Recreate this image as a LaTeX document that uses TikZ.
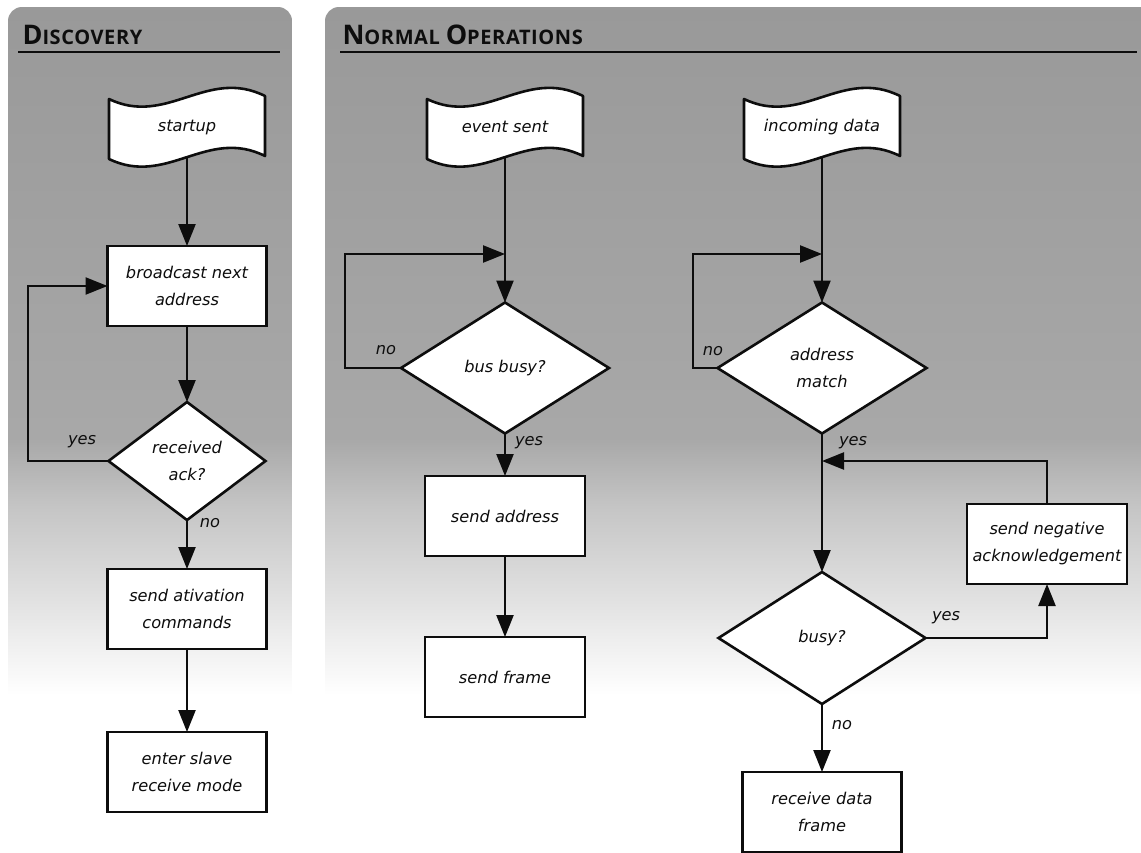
\documentclass[tikz,border=0pt]{standalone}
\usepackage{fontspec}
\setmainfont{DejaVu Sans}
\newfontfamily\headfont[LetterSpace=3]{Open Sans}
\usetikzlibrary{shapes.geometric,arrows.meta,calc}

\definecolor{shadeA}{gray}{0.60}
\definecolor{shadeB}{gray}{0.66}
\definecolor{shadeC}{gray}{0.77}
\definecolor{shadeD}{gray}{0.89}
\definecolor{shadeE}{gray}{1.0}
\definecolor{ink}{gray}{0.05}

% wavy "document" outline around a placeholder node
\newcommand{\flagoutline}[1]{%
  \draw[ink, line width=2.6pt, fill=white, line join=round]
    ($(#1.north west)+(0,2)$) .. controls ($(#1.north)+(-20,30)$) and ($(#1.north)+(20,-30)$) .. ($(#1.north east)+(0,-1)$)
    -- ($(#1.south east)+(0,-1)$) .. controls ($(#1.south)+(20,-30)$) and ($(#1.south)+(-20,30)$) .. ($(#1.south west)+(0,2)$)
    -- cycle;}

% shaded panel with a rounded top
\newcommand{\panel}[2]{%
  \begin{scope}
    \clip[rounded corners=14pt] (#1,7) rectangle (#2,900);
    \shade[top color=shadeA, bottom color=shadeB] (#1,6) rectangle (#2,440);
    \shade[top color=shadeB, bottom color=shadeC] (#1,439.5) rectangle (#2,505);
    \shade[top color=shadeC, bottom color=shadeD] (#1,504.5) rectangle (#2,605);
    \shade[top color=shadeD, bottom color=shadeE] (#1,604.5) rectangle (#2,695);
  \end{scope}}

\begin{document}
\begin{tikzpicture}[x=1pt,y=-1pt,
  txt/.style={font=\fontsize{16.2}{27}\selectfont\itshape, align=center, text=ink},
  stepbox/.style={draw=ink, line width=2.6pt, fill=white, minimum width=159pt,
    minimum height=80pt, inner sep=2pt, outer sep=0pt, txt},
  decision/.style={diamond, draw=ink, line width=2.6pt, fill=white, inner sep=0pt,
    outer sep=0pt, txt},
  flagbox/.style={minimum width=156pt, minimum height=60pt, inner sep=0pt, outer sep=0pt},
  arr/.style={draw=ink, line width=2.4pt, -{Triangle[length=22pt,width=17pt]}},
  tag/.style={txt, anchor=center},
  heading/.style={anchor=base west, text=ink, font=\headfont\bfseries},
]
\useasboundingbox (0,0) rectangle (1141,852);
\fill[white] (0,0) rectangle (1141,852);

% panels
\panel{8}{292}
\panel{325}{1170}

% headings
\node[heading] (headDisc) at (19,44)
  {{\fontsize{27}{28}\selectfont D}{\fontsize{20}{22}\selectfont ISCOVERY}};
\node[heading] (headNorm) at (339,44)
  {{\fontsize{27}{28}\selectfont N}{\fontsize{20}{22}\selectfont ORMAL }{\fontsize{27}{28}\selectfont O}{\fontsize{20}{22}\selectfont PERATIONS}};
\draw[ink, line width=1.8pt] (18,52) -- (280,52);
\draw[ink, line width=1.8pt] (340,52) -- (1137,52);

% ---------- Discovery ----------
\node[flagbox] (startup) at (187,127) {};
\flagoutline{startup}
\node[tag] (startupText) at (187,127) {startup};

\node[stepbox] (bcast) at (187,286) {broadcast next\\address};
\node[decision, minimum width=157pt, minimum height=118pt] (ack) at (187,461) {received\\ack?};
\node[stepbox] (activ) at (187,609) {send ativation\\commands};
\node[stepbox] (slave) at (187,772) {enter slave\\receive mode};

\coordinate (ackLoop) at (28,461);
\draw[arr] (startup.south) -- (bcast.north);
\draw[arr] (bcast.south) -- (ack.north);
\draw[arr] (ack.west) -- (ackLoop) |- (bcast.west);
\draw[arr] (ack.south) -- (activ.north);
\draw[arr] (activ.south) -- (slave.north);

\node[tag] (ackYes) at (82,442) {yes};
\node[tag] (ackNo) at (210,523) {no};

% ---------- Normal operations: sending ----------
\node[flagbox] (evsent) at (505,127) {};
\flagoutline{evsent}
\node[tag] (evsentText) at (505,127) {event sent};

\node[decision, minimum width=208pt, minimum height=131pt] (busbusy) at (505,368) {bus busy?};
\node[stepbox, minimum width=160pt] (sendaddr) at (505,516) {send address};
\node[stepbox, minimum width=160pt] (sendframe) at (505,677) {send frame};

\coordinate (busJoin) at (505,254);
\coordinate (busLoop) at (345,368);
\draw[arr] (evsent.south) -- (busbusy.north);
\draw[arr] (busbusy.west) -- (busLoop) |- (busJoin);
\draw[arr] (busbusy.south) -- (sendaddr.north);
\draw[arr] (sendaddr.south) -- (sendframe.north);

\node[tag] (busNo) at (386,350) {no};
\node[tag] (busYes) at (529,443) {yes};

% ---------- Normal operations: receiving ----------
\node[flagbox] (incoming) at (822,127) {};
\flagoutline{incoming}
\node[tag] (incomingText) at (822,127) {incoming data};

\node[decision, minimum width=209pt, minimum height=131pt] (addrmatch) at (822,368) {address\\match};
\node[decision, minimum width=207pt, minimum height=132pt] (busy) at (822,638) {busy?};
\node[stepbox, minimum width=160pt] (nack) at (1047,544) {send negative\\acknowledgement};
\node[stepbox] (rdf) at (822,812) {receive data\\frame};

\coordinate (addrJoin) at (822,254);
\coordinate (addrLoop) at (693,368);
\coordinate (nackJoin) at (822,461);
\draw[arr] (incoming.south) -- (addrmatch.north);
\draw[arr] (addrmatch.west) -- (addrLoop) |- (addrJoin);
\draw[arr] (addrmatch.south) -- (busy.north);
\draw[arr] (busy.east) -| (nack.south);
\draw[arr] (nack.north) |- (nackJoin);
\draw[arr] (busy.south) -- (rdf.north);

\node[tag] (addrNo) at (713,351) {no};
\node[tag] (addrYes) at (853,443) {yes};
\node[tag] (busyYes) at (946,618) {yes};
\node[tag] (busyNo) at (842,725) {no};
\end{tikzpicture}
\end{document}
